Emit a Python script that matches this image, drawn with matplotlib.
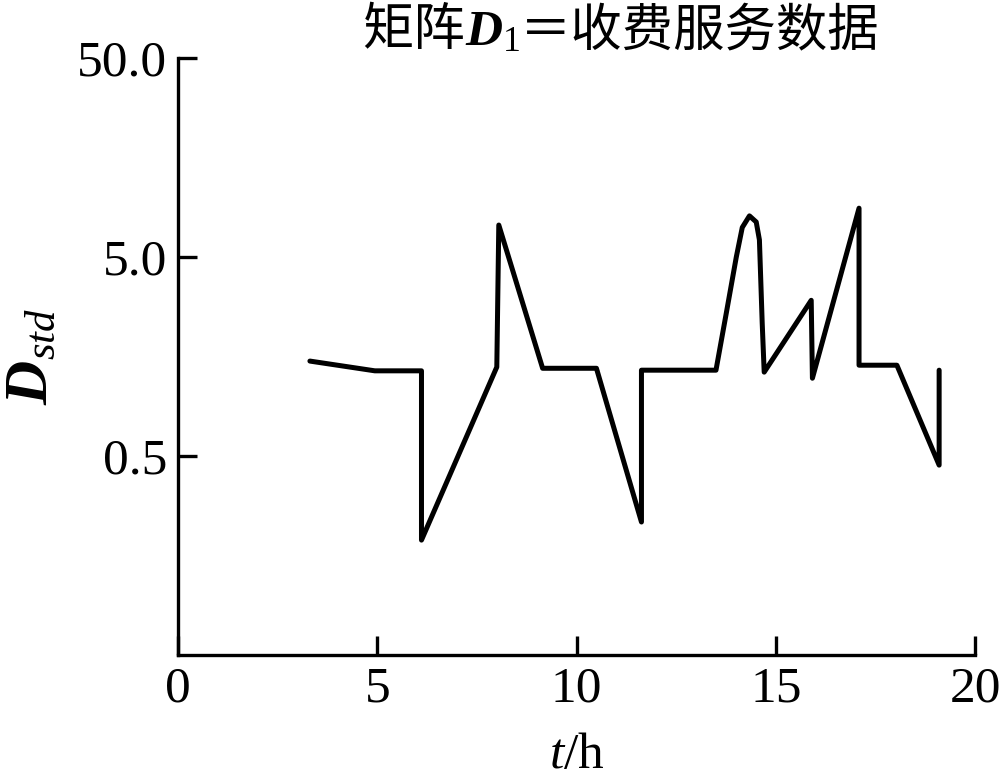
import matplotlib
matplotlib.use("Agg")
from matplotlib import pyplot as plt
from matplotlib.ticker import FixedLocator, NullLocator

plt.rcParams["font.family"] = ["Liberation Serif", "Noto Sans CJK SC"]
plt.rcParams["mathtext.fontset"] = "custom"
plt.rcParams["mathtext.rm"] = "Liberation Serif"
plt.rcParams["mathtext.it"] = "Liberation Serif:italic"
plt.rcParams["mathtext.bf"] = "Liberation Serif:bold"
plt.rcParams["mathtext.bfit"] = "Liberation Serif:italic:bold"

# hours and D_std values
t = [3.31, 4.94, 6.11, 6.11, 8.0, 8.05, 9.15, 10.5, 11.63, 11.63, 13.5, 13.76,
     14.01, 14.16, 14.34, 14.51, 14.59, 14.66, 14.71, 15.89, 15.92, 17.09,
     17.09, 18.04, 19.1, 19.1]
d_std = [1.50, 1.34, 1.34, 0.189, 1.40, 7.24, 1.38, 1.38, 0.233, 1.35, 1.35, 2.62,
         5.0, 7.04, 8.05, 7.5, 6.1, 2.33, 1.32, 3.03, 1.23, 8.8,
         1.43, 1.43, 0.45, 1.35]

x_ticks = [0, 5, 10, 15, 20]
y_ticks = [0.5, 5.0, 50.0]
y_labels = ["0.5", "5.0", "50.0"]
title_parts = ["矩阵", r"$\mathbfit{D}_1$", "＝收费服务数据"]

fig = plt.figure(figsize=(10, 7.81), dpi=100)
ax = fig.add_axes([0.178, 0.1613, 0.797, 0.7644])

ax.plot(t, d_std, color="black", lw=3.6, solid_joinstyle="round", solid_capstyle="round")

ax.set_yscale("log")
ax.set_xlim(0, 20)
ax.set_ylim(0.05, 50)
ax.xaxis.set_major_locator(FixedLocator(x_ticks))
ax.set_xticklabels([str(v) for v in x_ticks])
ax.yaxis.set_major_locator(FixedLocator(y_ticks))
ax.yaxis.set_minor_locator(NullLocator())
ax.set_yticklabels(y_labels)

for side in ["top", "right"]:
    ax.spines[side].set_visible(False)
for side in ["left", "bottom"]:
    ax.spines[side].set_linewidth(2.4)

ax.tick_params(direction="in", length=14, width=2.4, labelsize=37, pad=8)

ax.set_xlabel("$t$/h", fontsize=37, labelpad=14)
ax.set_ylabel(r"$\mathbfit{D}_{std}$", fontsize=44, labelpad=12)

# title in pieces so the CJK text falls back to a CJK font
fig.canvas.draw()
renderer = fig.canvas.get_renderer()
x0 = 0.362
for part in title_parts:
    txt = fig.text(x0, 0.958, part, fontsize=37, ha="left", va="center")
    bb = txt.get_window_extent(renderer)
    x0 = bb.x1 / fig.bbox.width

fig.savefig("out.png", dpi=100, facecolor="white")
